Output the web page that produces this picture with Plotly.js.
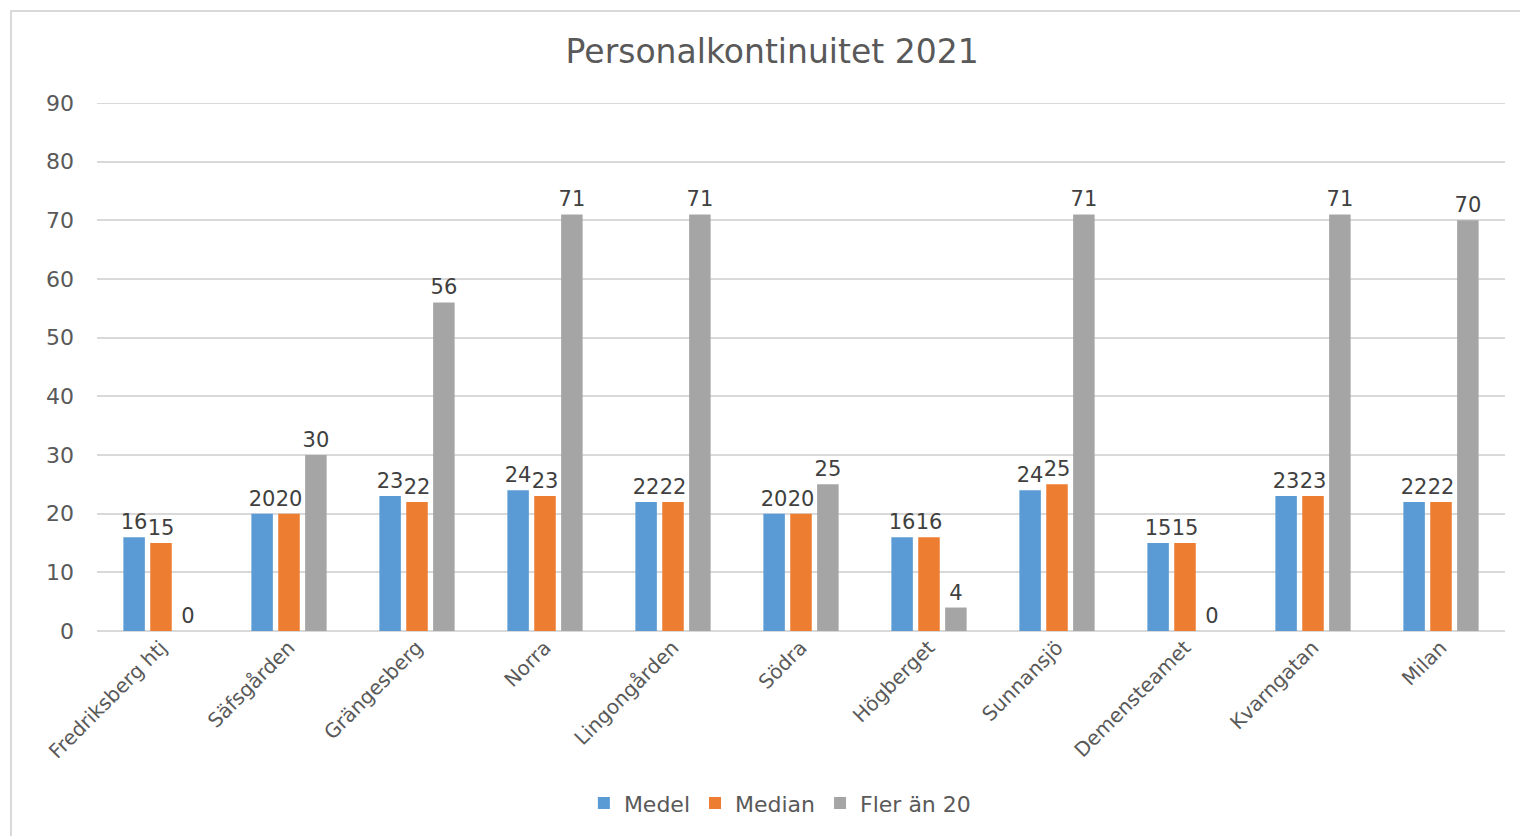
<!DOCTYPE html>
<html>
<head>
<meta charset="utf-8">
<script src="https://cdn.plot.ly/plotly-3.0.1.min.js"></script>
<style>
html,body{margin:0;padding:0;background:#fff;}
#wrap{position:relative;width:1520px;height:836px;overflow:hidden;}
#chart{position:absolute;left:0;top:0;width:1520px;height:836px;}
#frame{position:absolute;left:10px;top:10px;width:1520px;height:840px;border:2px solid #d9d9d9;box-sizing:border-box;pointer-events:none;}
</style>
</head>
<body>
<div id="wrap"><div id="chart"></div><div id="frame"></div></div>
<script>
const categories = ["Fredriksberg htj","Säfsgården","Grängesberg","Norra","Lingongården","Södra","Högberget","Sunnansjö","Demensteamet","Kvarngatan","Milan"];
const medel = [16,20,23,24,22,20,16,24,15,23,22];
const median = [15,20,22,23,22,20,16,25,15,23,22];
const fler = [0,30,56,71,71,25,4,71,0,71,70];

const font = "'DejaVu Sans', Verdana, sans-serif";
function mk(name, y, color){
  return {type:'bar', name:name, x:categories, y:y, marker:{color:color},
    text:y.map(String), textposition:'outside', cliponaxis:false, constraintext:'none',
    textfont:{family:font, size:21, color:'#404040'}, hoverinfo:'skip'};
}
const data = [mk('Medel', medel, '#5B9BD5'), mk('Median', median, '#ED7D31'), mk('Fler än 20', fler, '#A5A5A5')];
const layout = {
  width:1520, height:836,
  margin:{l:97, r:15, t:103, b:203},
  paper_bgcolor:'#fff', plot_bgcolor:'#fff',
  font:{family:font, color:'#595959'},
  title:{text:'Personalkontinuitet 2021', x:0.508, y:0.938, xanchor:'center', yanchor:'middle', font:{family:font, size:33, color:'#595959'}},
  barmode:'group', bargap:0.37, bargroupgap:0.2,
  xaxis:{tickangle:-45, tickfont:{family:font, size:20, color:'#595959'}, showline:false, ticks:'', showgrid:false},
  yaxis:{range:[0,90], tick0:0, dtick:10, tickfont:{family:font, size:22, color:'#595959'}, gridcolor:'#d9d9d9', gridwidth:2, zeroline:true, zerolinecolor:'#d9d9d9', zerolinewidth:2, ticklabelstandoff:22, showline:false, fixedrange:true},
  shapes:[{type:'line', xref:'paper', yref:'y', x0:0, x1:1, y0:90, y1:90, layer:'below', line:{color:'#d9d9d9', width:2}}],
  legend:{orientation:'h', x:0.485, xanchor:'center', y:-0.326, yanchor:'middle', font:{family:font, size:22, color:'#595959'}, itemwidth:30},
  showlegend:true
};
Plotly.newPlot('chart', data, layout, {displayModeBar:false, staticPlot:true});
</script>
</body>
</html>
